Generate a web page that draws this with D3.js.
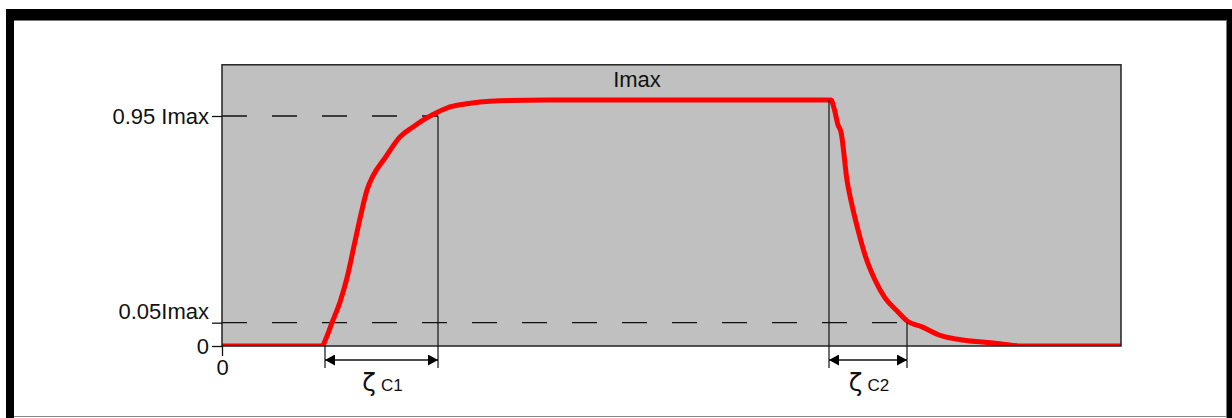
<!DOCTYPE html>
<html>
<head>
<meta charset="utf-8">
<script src="https://cdn.jsdelivr.net/npm/d3@7"></script>
<style>
  html, body { margin: 0; padding: 0; background: #fff; }
  svg { display: block; }
  text { font-family: "Liberation Sans", Arial, sans-serif; fill: #111; }
</style>
</head>
<body>
<svg id="chart" width="1232" height="418"></svg>
<script>
// Current pulse: time (arbitrary units) and current as a fraction of Imax
const curveTime = [0, 100, 104, 110, 118, 125, 132, 139, 145, 151, 163, 178, 191, 203, 216, 225, 243, 258, 278, 325,
                   606, 609, 612, 616, 619, 625, 630, 636, 643, 653, 663, 676, 685, 700, 720, 740, 760, 778, 800, 899];
const curveCurrent = [0, 0, 0.016, 0.05, 0.140, 0.245, 0.384, 0.523, 0.628, 0.689, 0.767, 0.859, 0.902, 0.937, 0.9625, 0.975, 0.9875, 0.994, 0.998, 1.0,
                      1.0, 1.0, 0.975, 0.911, 0.880, 0.671, 0.562, 0.454, 0.345, 0.236, 0.158, 0.097, 0.058, 0.041, 0.0215, 0.013, 0.0086, 0.005, 0, 0];

// Level ticks on the current axis
const levelValues = [0, 0.05, 0.95];
const levelLabels = ["0", "0.05Imax", "0.95 Imax"];
const timeTicks = [0];
const peakLabel = "Imax";

// Switching instants: rise start, 95 % reached, fall start, 5 % reached
const riseStart = 103, riseEnd = 216, fallStart = 607, fallEnd = 685;
const intervals = [
  { from: riseStart, to: riseEnd, sub: "C1" },
  { from: fallStart, to: fallEnd, sub: "C2" }
];

const svg = d3.select("#chart");

// Outer frame
const frame = svg.append("g");
frame.append("rect").attr("x", 6).attr("y", 9).attr("width", 1226).attr("height", 11).attr("fill", "#000");
frame.append("rect").attr("x", 6).attr("y", 9).attr("width", 8).attr("height", 409).attr("fill", "#000");
frame.append("rect").attr("x", 1227).attr("y", 9).attr("width", 5).attr("height", 409).attr("fill", "#000");
frame.append("line").attr("x1", 14).attr("x2", 1227).attr("y1", 20.5).attr("y2", 20.5).attr("stroke", "#777");
frame.append("line").attr("x1", 1226.5).attr("x2", 1226.5).attr("y1", 20).attr("y2", 418).attr("stroke", "#777");
frame.append("line").attr("x1", 14).attr("x2", 1227).attr("y1", 416.5).attr("y2", 416.5).attr("stroke", "#888");

const x = d3.scaleLinear().domain([0, 899]).range([222, 1121]);
const y = d3.scaleLinear().domain([0, 0.05, 0.95, 1]).range([346, 322.7, 116, 100]);
const topValue = 1.11;

const plotL = x(0), plotR = x(899), plotT = y(topValue), plotB = y(0);

svg.append("defs").append("clipPath").attr("id", "plotClip")
  .append("rect").attr("x", plotL).attr("y", plotT).attr("width", plotR - plotL).attr("height", plotB - plotT);

svg.append("rect")
  .attr("x", plotL).attr("y", plotT).attr("width", plotR - plotL).attr("height", plotB - plotT)
  .attr("fill", "#c0c0c0");

// Dashed guide lines at 5 % and 95 %
svg.append("line")
  .attr("x1", x(0)).attr("x2", x(riseEnd)).attr("y1", y(0.95)).attr("y2", y(0.95))
  .attr("stroke", "#111").attr("stroke-width", 1.3).attr("stroke-dasharray", "25,25");
svg.append("line")
  .attr("x1", x(0)).attr("x2", x(fallEnd)).attr("y1", y(0.05)).attr("y2", y(0.05))
  .attr("stroke", "#111").attr("stroke-width", 1.3).attr("stroke-dasharray", "25,25");

// Current curve
const line = d3.line().x((d, i) => x(curveTime[i])).y(d => y(d)).curve(d3.curveMonotoneX);
svg.append("path")
  .datum(curveCurrent)
  .attr("clip-path", "url(#plotClip)")
  .attr("d", line)
  .attr("fill", "none").attr("stroke", "#ff0000").attr("stroke-width", 5)
  .attr("stroke-linejoin", "round");

// Plot border
svg.append("rect")
  .attr("x", plotL).attr("y", plotT).attr("width", plotR - plotL).attr("height", plotB - plotT)
  .attr("fill", "none").attr("stroke", "#222").attr("stroke-width", 1.5);

// Vertical markers at the switching instants
const markerBottom = 368;
const verticals = [
  { t: riseStart, v: 0 }, { t: riseEnd, v: 0.95 },
  { t: fallStart, v: 1 }, { t: fallEnd, v: 0.05 }
];
svg.selectAll(".vmark").data(verticals).join("line")
  .attr("class", "vmark")
  .attr("x1", d => x(d.t)).attr("x2", d => x(d.t))
  .attr("y1", d => y(d.v)).attr("y2", markerBottom)
  .attr("stroke", "#111").attr("stroke-width", 1.2);

// Double arrows with labels
svg.select("defs").append("marker")
  .attr("id", "arrowHead").attr("markerUnits", "userSpaceOnUse")
  .attr("markerWidth", 10).attr("markerHeight", 11).attr("refX", 10).attr("refY", 5.5)
  .attr("orient", "auto-start-reverse")
  .append("path").attr("d", "M0,0 L10,5.5 L0,11 Z").attr("fill", "#000");

const arrowY = 360;
svg.selectAll(".span").data(intervals).join("line")
  .attr("class", "span")
  .attr("x1", d => x(d.from)).attr("x2", d => x(d.to))
  .attr("y1", arrowY).attr("y2", arrowY)
  .attr("stroke", "#111").attr("stroke-width", 1.6)
  .attr("marker-start", "url(#arrowHead)").attr("marker-end", "url(#arrowHead)");

const spanLabels = svg.selectAll(".spanLabel").data(intervals).join("text")
  .attr("class", "spanLabel")
  .attr("x", d => (x(d.from) + x(d.to)) / 2 + 1)
  .attr("y", 391)
  .attr("text-anchor", "middle");
spanLabels.append("tspan").attr("font-family", "DejaVu Sans").attr("font-size", 25).text("ζ");
spanLabels.append("tspan").attr("dx", 5).attr("font-size", 17).text(d => d.sub);

// Current axis
const yAxis = svg.append("g").attr("transform", `translate(${plotL},0)`)
  .call(d3.axisLeft(y).tickValues(levelValues).tickSize(10).tickPadding(3)
    .tickFormat((d, i) => levelLabels[i]));
yAxis.select(".domain").remove();
yAxis.selectAll(".tick line").attr("stroke", "#111").attr("stroke-width", 1.3);
yAxis.selectAll(".tick text")
  .attr("font-family", "\"Liberation Sans\", Arial, sans-serif")
  .attr("font-size", 22).attr("fill", "#111")
  .attr("dy", (d) => d === 0.05 ? "-0.2em" : "0.32em");

// Time axis
const xAxis = svg.append("g").attr("transform", `translate(0,${plotB})`)
  .call(d3.axisBottom(x).tickValues(timeTicks).tickSize(10).tickPadding(3).tickFormat(d3.format("d")));
xAxis.select(".domain").remove();
xAxis.selectAll(".tick line").attr("stroke", "#111").attr("stroke-width", 1.3);
xAxis.selectAll(".tick text")
  .attr("font-family", "\"Liberation Sans\", Arial, sans-serif")
  .attr("font-size", 22).attr("fill", "#111");

// Peak level label
svg.append("text")
  .attr("x", x(415)).attr("y", y(1) - 13)
  .attr("text-anchor", "middle").attr("font-size", 22)
  .text(peakLabel);
</script>
</body>
</html>
